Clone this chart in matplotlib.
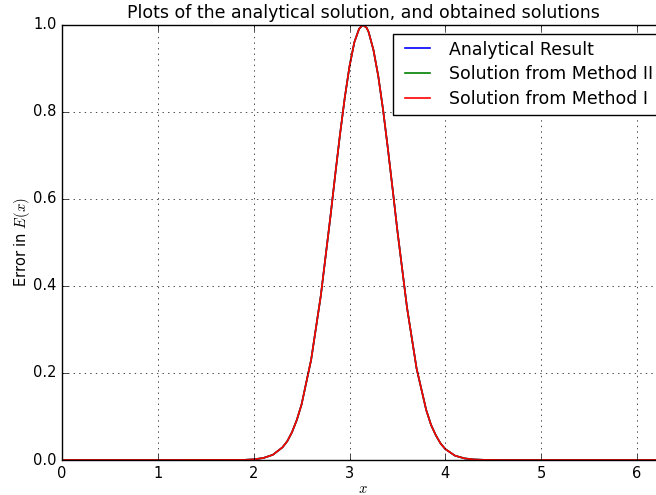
import matplotlib
matplotlib.use("Agg")
import matplotlib.pyplot as plt

# values
x = [0.0, 1.0, 1.9, 2.0, 2.1, 2.2, 2.3, 2.35, 2.4, 2.45, 2.5, 2.6, 2.7, 2.8,
     2.85, 2.9, 2.95, 3.0, 3.05, 3.1, 3.14, 3.18, 3.2, 3.25, 3.3, 3.35, 3.4,
     3.45, 3.5, 3.6, 3.7, 3.8, 3.85, 3.9, 3.95, 4.0, 4.1, 4.2, 4.3, 4.4, 4.6,
     5.0, 6.0, 6.2832]
y_analytical = [0.0, 0.0, 0.0003, 0.0015, 0.0045, 0.012, 0.029, 0.043, 0.064,
                0.092, 0.128, 0.231, 0.377, 0.558, 0.654, 0.747, 0.832, 0.905,
                0.960, 0.991, 1.0, 0.993, 0.983, 0.942, 0.882, 0.805, 0.716,
                0.622, 0.526, 0.350, 0.210, 0.115, 0.081, 0.057, 0.038, 0.025,
                0.010, 0.0037, 0.0012, 0.0004, 0.0, 0.0, 0.0, 0.0]
y_method2 = list(y_analytical)
y_method1 = list(y_analytical)

plt.style.use('classic')
plt.rcParams['font.size'] = 10.5
fig = plt.figure(figsize=(6.56, 4.95), dpi=100, facecolor='white')
ax = fig.add_axes([0.0945, 0.0707, 0.918, 0.879])

ax.plot(x, y_analytical, color='b', lw=1.2, label='Analytical Result')
ax.plot(x, y_method2, color='g', lw=1.2, label='Solution from Method II')
ax.plot(x, y_method1, color='r', lw=1.2, label='Solution from Method I')

ax.set_xlim(0, 6.2832)
ax.set_ylim(0, 1.0)
ax.set_xticks([0, 1, 2, 3, 4, 5, 6])
ax.grid(True)
ax.set_xlabel('$x$', labelpad=0)
ax.set_ylabel('Error in $E(x)$', labelpad=1)
ax.set_title('Plots of the analytical solution, and obtained solutions', fontsize=12.5)
ax.legend(loc='upper right', fontsize=12.5, labelspacing=0.38,
          bbox_to_anchor=(1.007, 1.0))

fig.savefig('out.png', dpi=100, facecolor='white')
